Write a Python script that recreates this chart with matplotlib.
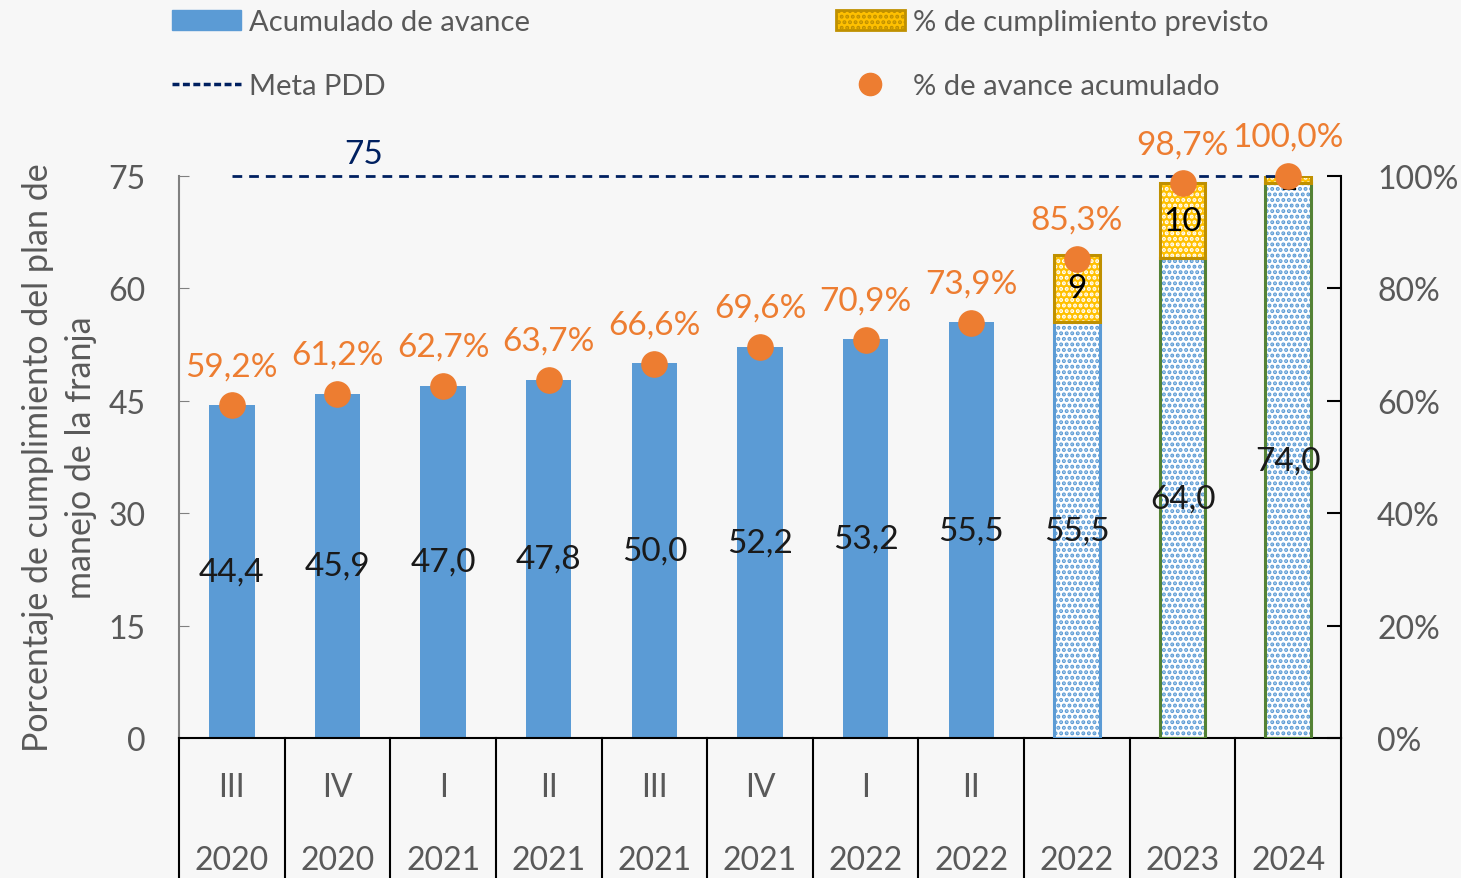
import matplotlib
matplotlib.use("Agg")
import matplotlib.pyplot as plt
from matplotlib.patches import Patch
from matplotlib.lines import Line2D

plt.rcParams['font.family'] = ['Lato', 'DejaVu Sans']
plt.rcParams['hatch.linewidth'] = 2.0

quarters = ["III", "IV", "I", "II", "III", "IV", "I", "II", "", "", ""]
years = ["2020", "2020", "2021", "2021", "2021", "2021", "2022", "2022", "2022", "2023", "2024"]
acumulado = [44.4, 45.9, 47.0, 47.8, 50.0, 52.2, 53.2, 55.5, 55.5, 64.0, 74.0]
previsto = [0, 0, 0, 0, 0, 0, 0, 0, 9, 10, 1]
pct_avance = [59.2, 61.2, 62.7, 63.7, 66.6, 69.6, 70.9, 73.9, 85.3, 98.7, 100.0]
meta = 75
n_real = 8  # first bars are measured progress; the rest are projections

BLUE = '#5B9BD5'
ORANGE = '#ED7D31'
YELLOW = '#FFC000'
GOLD = '#BF9000'
GREEN = '#548235'
NAVY = '#002060'
GRAY = '#595959'

fig = plt.figure(figsize=(14.61, 8.79), dpi=100)
fig.patch.set_facecolor('#f7f7f7')
ax = fig.add_axes([179/1461, 1-739/879, (1341-179)/1461, (739-177)/879])
ax.set_facecolor('none')
ax2 = ax.twinx()

x = list(range(len(acumulado)))
w = 0.43
for i in x:
    if i < n_real:
        ax.bar(i, acumulado[i], w, color=BLUE, zorder=2)
    else:
        ax.bar(i, acumulado[i], w, facecolor='white', edgecolor=BLUE, hatch='...', linewidth=0, zorder=2)
        edge = BLUE if i == n_real else GREEN
        ax.bar(i, acumulado[i], w, facecolor='none', edgecolor=edge, linewidth=2.2, zorder=3)
    if previsto[i] > 0:
        ax.bar(i, previsto[i], w, bottom=acumulado[i], facecolor=YELLOW, edgecolor='white', hatch='...', linewidth=0, zorder=2)
        ax.bar(i, previsto[i], w, bottom=acumulado[i], facecolor='none', edgecolor=GOLD, linewidth=2.2, zorder=3)
        ax.text(i, acumulado[i] + previsto[i] / 2, f"{previsto[i]:d}", ha='center', va='center', fontsize=24, color='black', zorder=6)
    ax.text(i, acumulado[i] / 2, f"{acumulado[i]:.1f}".replace('.', ','), ha='center', va='center', fontsize=24, color='#1a1a1a', zorder=6)

ax.plot([x[0], x[-1]], [meta, meta], linestyle=(0, (3.5, 2.5)), color=NAVY, linewidth=2, zorder=4, clip_on=False)
ax.text(1.25, meta + 1.0, f"{meta}", ha='center', va='bottom', fontsize=24, color=NAVY)

ax.set_xlim(-0.5, len(x) - 0.5)
ax.set_ylim(0, 75)
ax.set_yticks([0, 15, 30, 45, 60, 75])
ax.set_xticks([])
ax.tick_params(axis='y', direction='in', length=7, color='#808080', labelsize=23, labelcolor=GRAY, pad=24)
for s in ['top', 'right']:
    ax.spines[s].set_visible(False)
ax.spines['left'].set_color('#808080')
ax.spines['left'].set_linewidth(1.5)
ax.spines['bottom'].set_color('black')
ax.spines['bottom'].set_linewidth(1.5)
ax.set_ylabel("Porcentaje de cumplimiento del plan de\nmanejo de la franja", fontsize=24.5, color=GRAY, labelpad=8, linespacing=1.45)

ax2.set_ylim(0, 100)
ax2.set_yticks([0, 20, 40, 60, 80, 100])
ax2.set_yticklabels([f"{v}%" for v in [0, 20, 40, 60, 80, 100]])
ax2.tick_params(axis='y', direction='in', length=10, color='black', labelsize=23, labelcolor=GRAY, pad=26, width=1.5)
for s in ['top', 'left', 'bottom']:
    ax2.spines[s].set_visible(False)
ax2.spines['right'].set_color('black')
ax2.spines['right'].set_linewidth(1.5)

ax2.scatter(x, pct_avance, s=330, color=ORANGE, zorder=5, clip_on=False)
for i, p in zip(x, pct_avance):
    ax2.text(i, p + 4.3, f"{p:.1f}%".replace('.', ','), ha='center', va='bottom', fontsize=24, color=ORANGE, clip_on=False)

# category table below the axis
for b in range(len(x) + 1):
    ax.plot([b - 0.5, b - 0.5], [0, -20], color='black', linewidth=1.5, clip_on=False)
for i in x:
    ax.text(i, -6.6, quarters[i], ha='center', va='center', fontsize=23, color=GRAY, clip_on=False)
    ax.text(i, -16.3, years[i], ha='center', va='center', fontsize=23, color=GRAY, clip_on=False)

h1 = [Patch(facecolor=BLUE, edgecolor=BLUE),
      Line2D([0], [0], color=NAVY, linestyle=(0, (2, 1)), linewidth=2.5)]
l1 = ["Acumulado de avance", "Meta PDD"]
h2 = [Patch(facecolor=YELLOW, edgecolor=GOLD, hatch='...', linewidth=2),
      Line2D([0], [0], marker='o', color='none', markerfacecolor=ORANGE, markeredgecolor=ORANGE, markersize=16)]
l2 = ["% de cumplimiento previsto", "% de avance acumulado"]
kw = dict(frameon=False, fontsize=21, labelcolor=GRAY, handlelength=2.35, handleheight=0.7,
          handletextpad=0.3, labelspacing=1.3, loc='upper left', borderaxespad=0, borderpad=0)
fig.legend(h1, l1, bbox_to_anchor=(172/1461, 1-10/879), **kw)
fig.legend(h2, l2, bbox_to_anchor=(836/1461, 1-10/879), **kw)

fig.savefig("out.png", dpi=100, facecolor=fig.get_facecolor())
